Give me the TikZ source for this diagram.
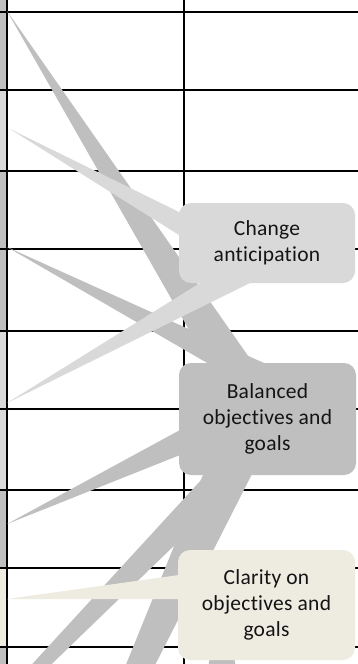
\documentclass[tikz,border=0pt]{standalone}
\usepackage{fontspec}
\setmainfont{Carlito}[Ligatures=NoCommon, LetterSpace=1.2]
\usetikzlibrary{calc}
\definecolor{callgray}{RGB}{191,191,191}
\definecolor{calllight}{RGB}{217,217,217}
\definecolor{callcream}{RGB}{238,236,225}
\definecolor{inkdark}{RGB}{20,20,20}
\tikzset{
  rule/.style={line width=1.8pt, black},
  callbox/.style={rounded corners=12pt, inner sep=0pt, align=center,
    font=\fontsize{21.5}{26}\selectfont, text=inkdark},
}
\begin{document}
\begin{tikzpicture}[x=1pt,y=-1pt]
\useasboundingbox (0,0) rectangle (358,664);
\fill[white] (0,0) rectangle (358,664);

% coloured marker strip on the left edge of the table
\fill[callgray]  (0,0)   rectangle (6,90);
\fill[calllight] (0,90)  rectangle (6,171);
\fill[callgray]  (0,171) rectangle (6,331);
\fill[calllight] (0,331) rectangle (6,490);
\fill[callgray]  (0,490) rectangle (6,568);
\fill[callcream] (0,568) rectangle (6,647);
\fill[callgray]  (0,647) rectangle (6,664);

% table rules
\foreach \y in {12,90,171,249,331,409,490,568,647}
  \draw[rule] (0,\y) -- (358,\y);
\draw[rule] (6.8,0) -- (6.8,664);
\draw[rule] (184,0) -- (184,664);

% pointer tips
\coordinate (ta) at (7,11);
\coordinate (tb) at (7,247);
\coordinate (tc) at (7,524);
\coordinate (td) at (-120,830);
\coordinate (te) at (8,955);
\coordinate (tf) at (222,585);
\coordinate (tl1) at (10,129);
\coordinate (tl2) at (7,403);
\coordinate (tk) at (7,599);

% grey pointers to "Balanced objectives and goals"
\fill[callgray] (ta) -- ($(ta)!1.15!(208,363)$) -- ($(ta)!1.15!(253,363)$) -- cycle;
\fill[callgray] (tb) -- (275,368) -- (266,397) -- cycle;
\fill[callgray] (tc) -- ($(tc)!1.2!(180,430)$) -- ($(tc)!1.2!(180,455)$) -- cycle;
\fill[callgray] (td) -- ($(td)!1.25!(180,503)$) -- ($(td)!1.25!(180,540)$) -- cycle;
\fill[callgray] (te) -- (205,470) -- (254,470) -- cycle;
\fill[callgray] (tf) -- (206,680) -- (238,680) -- cycle;

\node[callbox, fill=callgray, minimum width=177pt, minimum height=112pt]
  (balanced) at (267.5,419) {Balanced\\objectives and\\goals};

% light pointers to "Change anticipation"
\fill[calllight] (tl1) -- ($(tl1)!1.15!(179,212)$) -- ($(tl1)!1.15!(179,235)$) -- cycle;
\fill[calllight] (tl2) -- ($(tl2)!1.1!(200,283)$) -- ($(tl2)!1.1!(250,283)$) -- cycle;

\node[callbox, fill=calllight, minimum width=176pt, minimum height=80pt]
  (change) at (267,243) {Change\\anticipation};

% cream pointer to "Clarity on objectives and goals"
\fill[callcream] (tk) -- ($(tk)!1.15!(179,575)$) -- ($(tk)!1.15!(179,599)$) -- cycle;

\node[callbox, fill=callcream, minimum width=177pt, minimum height=110pt]
  (clarity) at (266.5,605) {Clarity on\\objectives and\\goals};
\end{tikzpicture}
\end{document}
